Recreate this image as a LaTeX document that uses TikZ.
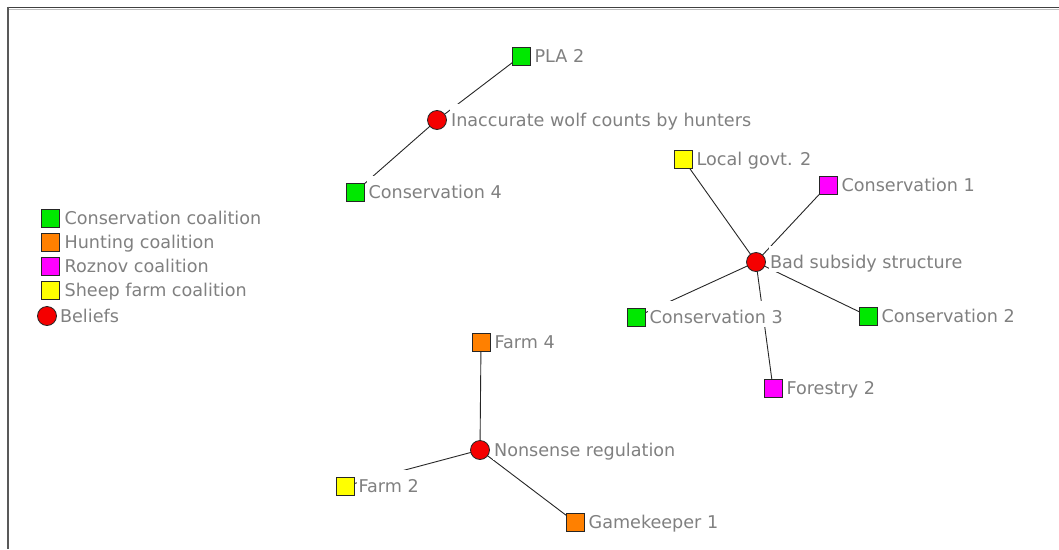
\documentclass[tikz,border=0pt]{standalone}
\usepackage{fontspec}
\setmainfont{DejaVu Sans}
\usetikzlibrary{backgrounds}

\definecolor{consgreen}{RGB}{0,232,0}
\definecolor{huntorange}{RGB}{255,128,0}
\definecolor{roznovpink}{RGB}{255,0,255}
\definecolor{sheepyellow}{RGB}{255,255,0}
\definecolor{beliefred}{RGB}{245,0,0}
\definecolor{labelgray}{RGB}{128,128,128}

\begin{document}
\begin{tikzpicture}[x=1pt,y=-1pt,
  actor/.style={rectangle, draw=black!85, line width=0.8pt, minimum size=18pt, inner sep=0pt},
  belief/.style={circle, draw=black!85, fill=beliefred, line width=0.8pt, minimum size=19pt, inner sep=0pt},
  keytext/.style={anchor=base west, inner xsep=1.5pt, inner ysep=0pt, text=labelgray,
    font=\fontsize{17.6}{20}\selectfont},
  tag/.style={keytext, fill=white, text height=22.5pt, text depth=3.5pt},
  link/.style={draw=black!85, line width=0.9pt}]

% page area and frame
\useasboundingbox (0,0) rectangle (1059,549);
\draw[black!75, line width=1.6pt] (8,7.5) -- (1059,7.5);
\draw[black!25, line width=0.8pt] (9,9.3) -- (1059,9.3);
\draw[black!65, line width=2pt] (8,6.7) -- (8,549);

% legend
\node[actor, fill=consgreen]   (lg-cons)  at (50,218) {};
\node[actor, fill=huntorange]  (lg-hunt)  at (50,242) {};
\node[actor, fill=roznovpink]  (lg-roz)   at (50,266) {};
\node[actor, fill=sheepyellow] (lg-sheep) at (50,290) {};
\node[belief]                  (lg-bel)   at (47,316) {};
\node[keytext] (lt-cons)  at ([xshift=3.5pt,yshift=-6.4pt]lg-cons.east)  {Conservation coalition};
\node[keytext] (lt-hunt)  at ([xshift=3.5pt,yshift=-6.4pt]lg-hunt.east)  {Hunting coalition};
\node[keytext] (lt-roz)   at ([xshift=3.5pt,yshift=-6.4pt]lg-roz.east)   {Roznov coalition};
\node[keytext] (lt-sheep) at ([xshift=3.5pt,yshift=-6.4pt]lg-sheep.east) {Sheep farm coalition};
\node[keytext] (lt-bel)   at ([xshift=1.5pt,yshift=-6.4pt]lg-bel.east)   {Beliefs};

% beliefs
\node[belief] (inacc) at (437,120) {};
\node[belief] (subsidy) at (756,262) {};
\node[belief] (nonsense) at (480,450) {};

% actors
\node[actor, fill=consgreen]   (pla2)  at (521,56)  {};
\node[actor, fill=consgreen]   (cons4) at (355,192) {};
\node[actor, fill=sheepyellow] (lgov2) at (683,159) {};
\node[actor, fill=roznovpink]  (cons1) at (828,185) {};
\node[actor, fill=consgreen]   (cons3) at (636,317) {};
\node[actor, fill=consgreen]   (cons2) at (868,316) {};
\node[actor, fill=roznovpink]  (forest2) at (773,388) {};
\node[actor, fill=huntorange]  (farm4) at (481,342) {};
\node[actor, fill=sheepyellow] (farm2) at (345,486) {};
\node[actor, fill=huntorange]  (gamek1) at (575,522) {};

% labels (white boxes hide the links passing behind them)
\node[tag] (t-inacc)    at ([xshift=2.5pt,yshift=-6.4pt]inacc.east)    {Inaccurate wolf counts by hunters};
\node[tag] (t-subsidy)  at ([xshift=2.5pt,yshift=-6.4pt]subsidy.east)  {Bad subsidy structure};
\node[tag] (t-nonsense) at ([xshift=2.5pt,yshift=-6.4pt]nonsense.east) {Nonsense regulation};
\node[tag] (t-pla2)   at ([xshift=2.5pt,yshift=-6.4pt]pla2.east)   {PLA 2};
\node[tag] (t-cons4)  at ([xshift=2.5pt,yshift=-6.4pt]cons4.east)  {Conservation 4};
\node[tag] (t-lgov2)  at ([xshift=2.5pt,yshift=-6.4pt]lgov2.east)  {Local govt. 2};
\node[tag] (t-cons1)  at ([xshift=2.5pt,yshift=-6.4pt]cons1.east)  {Conservation 1};
\node[tag] (t-cons3)  at ([xshift=2.5pt,yshift=-6.4pt]cons3.east)  {Conservation 3};
\node[tag] (t-cons2)  at ([xshift=2.5pt,yshift=-6.4pt]cons2.east)  {Conservation 2};
\node[tag] (t-forest2) at ([xshift=2.5pt,yshift=-6.4pt]forest2.east) {Forestry 2};
\node[tag] (t-farm4)  at ([xshift=2.5pt,yshift=-6.4pt]farm4.east)  {Farm 4};
\node[tag] (t-farm2)  at ([xshift=2.5pt,yshift=-6.4pt]farm2.east)  {Farm 2};
\node[tag] (t-gamek1) at ([xshift=2.5pt,yshift=-6.4pt]gamek1.east) {Gamekeeper 1};

% links run underneath shapes and label boxes
\begin{scope}[on background layer]
  \draw[link] (inacc.center) -- (pla2.center);
  \draw[link] (inacc.center) -- (cons4.center);
  \draw[link] (subsidy.center) -- (lgov2.center);
  \draw[link] (subsidy.center) -- (cons1.center);
  \draw[link] (subsidy.center) -- (cons3.center);
  \draw[link] (subsidy.center) -- (cons2.center);
  \draw[link] (subsidy.center) -- (forest2.center);
  \draw[link] (nonsense.center) -- (farm4.center);
  \draw[link] (nonsense.center) -- (farm2.center);
  \draw[link] (nonsense.center) -- (gamek1.center);
\end{scope}
\end{tikzpicture}
\end{document}
